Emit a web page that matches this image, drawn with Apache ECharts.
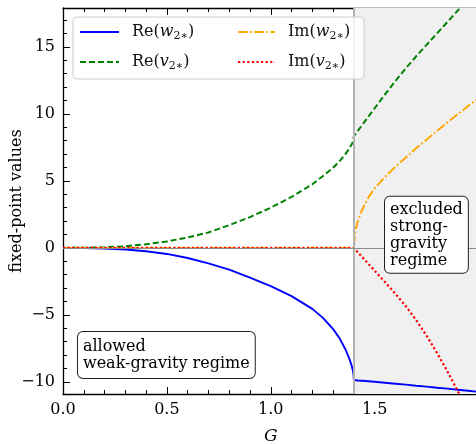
<!DOCTYPE html>
<html>
<head>
<meta charset="utf-8">
<script src="https://cdn.jsdelivr.net/npm/echarts@6/dist/echarts.min.js"></script>
<style>
  html, body { margin: 0; padding: 0; background: #fff; }
  #chart { width: 476px; height: 444px; }
</style>
</head>
<body>
<div id="chart"></div>
<script>
// Coupling G at which the fixed points turn complex
const gCrit = 1.4;

// Sampled coupling values (shared by every curve)
const G = [0, 0.1, 0.2, 0.3, 0.4, 0.5, 0.6, 0.7, 0.8, 0.9, 1.0, 1.1, 1.2, 1.25, 1.3, 1.33, 1.36, 1.38, 1.39, 1.395, 1.398, 1.4,
           1.405, 1.41, 1.42, 1.44, 1.47, 1.5, 1.55, 1.6, 1.65, 1.7, 1.75, 1.8, 1.85, 1.9, 1.95, 2.0];

// Re(w_2*)
const reW = [0, -0.01, -0.05, -0.12, -0.25, -0.45, -0.75, -1.15, -1.62, -2.22, -2.85, -3.6, -4.55, -5.2, -6.05, -6.71, -7.58, -8.34, -8.82, -9.13, -9.4, -9.86,
             -9.87, -9.87, -9.89, -9.91, -9.95, -9.99, -10.06, -10.13, -10.2, -10.28, -10.35, -10.43, -10.5, -10.58, -10.66, -10.74];

// Re(v_2*)
const reV = [0, 0.01, 0.05, 0.12, 0.28, 0.48, 0.78, 1.15, 1.7, 2.3, 3.0, 3.8, 4.75, 5.35, 5.98, 6.45, 7.0, 7.48, 7.73, 7.9, 8.06, 8.33,
             8.44, 8.54, 8.75, 9.17, 9.8, 10.42, 11.45, 12.45, 13.4, 14.3, 15.15, 16.0, 16.85, 17.7, 18.55, 19.4];

// Im(w_2*)
const imW = [0, 0, 0, 0, 0, 0, 0, 0, 0, 0, 0, 0, 0, 0, 0, 0, 0, 0, 0, 0, 0, 0,
             1.0, 1.45, 2.05, 2.85, 3.75, 4.45, 5.3, 6.05, 6.75, 7.43, 8.08, 8.72, 9.35, 9.97, 10.58, 11.18];

// Im(v_2*)
const imV = [0, 0, 0, 0, 0, 0, 0, 0, 0, 0, 0, 0, 0, 0, 0, 0, 0, 0, 0, 0, 0, 0,
             -0.08, -0.17, -0.34, -0.68, -1.19, -1.7, -2.55, -3.42, -4.35, -5.38, -6.55, -7.82, -9.2, -10.68, -12.2, -13.8];

// Axis ranges and tick positions
const xRange = [0, 2];
const yRange = [-10.9, 17.9];
const yMajor = [-10, -5, 0, 5, 10, 15];
const yMinor = [-10, -9, -8, -7, -6, -5, -4, -3, -2, -1, 0, 1, 2, 3, 4, 5, 6, 7, 8, 9, 10, 11, 12, 13, 14, 15, 16, 17];

// Legend entries: [series name, prefix, symbol]
const entries = [
  ['Re(w)', 'Re', 'w'],
  ['Re(v)', 'Re', 'v'],
  ['Im(w)', 'Im', 'w'],
  ['Im(v)', 'Im', 'v']
];

// Region annotations: text and top-left anchor in data coordinates
const allowedText = 'allowed\nweak-gravity regime';
const allowedAt = [0.072, -6.27];
const excludedText = 'excluded\nstrong-\ngravity\nregime';
const excludedAt = [1.55, 3.81];

const FONT = '"DejaVu Serif", serif';
const pairs = ys => G.map((g, i) => [g, ys[i]]);
const minus = v => (v < 0 ? '\u2212' + Math.abs(v) : String(v));

const legendRich = {
  f: { fontFamily: FONT, fontSize: 16, color: '#111', padding: [0, 0, 0, 8], lineHeight: 20 },
  n: { fontFamily: FONT, fontSize: 16, color: '#111', lineHeight: 20 },
  i: { fontFamily: FONT, fontSize: 16, fontStyle: 'italic', color: '#111', lineHeight: 20 },
  s: { fontFamily: FONT, fontSize: 11, color: '#111', verticalAlign: 'bottom', lineHeight: 14 }
};
const legendLabel = name => {
  const e = entries.find(x => x[0] === name);
  return '{f|' + e[1] + '(}{i|' + e[2] + '}{s|2\u2217}{n|)}';
};

function yAxisDef(position, ticks, len, withLabels) {
  return {
    type: 'value', position: position, min: yRange[0], max: yRange[1],
    axisLine: { show: withLabels, onZero: false, lineStyle: { color: '#000', width: 1.3 } },
    axisTick: { show: true, inside: true, length: len, customValues: ticks, lineStyle: { color: '#000', width: 1 } },
    axisLabel: withLabels && position === 'left'
      ? { show: true, customValues: yMajor, formatter: minus, fontFamily: FONT, fontSize: 16, color: '#000', margin: 8 }
      : { show: false },
    splitLine: { show: false },
    name: withLabels && position === 'left' ? 'fixed-point values' : '',
    nameLocation: 'middle', nameGap: 38, nameMoveOverlap: false,
    nameTextStyle: { fontFamily: FONT, fontSize: 16, color: '#000' }
  };
}

function xAxisDef(position, withLabels) {
  return {
    type: 'value', position: position, min: xRange[0], max: xRange[1], interval: 0.5,
    axisLine: { show: true, onZero: false, lineStyle: { color: '#000', width: 1.3 } },
    axisTick: { show: true, inside: true, length: 7, lineStyle: { color: '#000', width: 1 } },
    minorTick: { show: true, splitNumber: 5, length: 4, lineStyle: { color: '#000', width: 1 } },
    axisLabel: withLabels
      ? { show: true, showMaxLabel: false, formatter: v => v.toFixed(1), fontFamily: FONT, fontSize: 16, color: '#000', margin: 8 }
      : { show: false },
    splitLine: { show: false },
    name: withLabels ? 'G' : '',
    nameLocation: 'middle', nameGap: 34,
    nameTextStyle: { fontFamily: FONT, fontSize: 17, fontStyle: 'italic', color: '#000' }
  };
}

const chart = echarts.init(document.getElementById('chart'), null, { renderer: 'canvas' });

const option = {
  animation: false,
  backgroundColor: '#fff',
  grid: { left: 63, top: 8, width: 415.5, height: 386, containLabel: false, outerBoundsMode: 'none' },
  xAxis: [xAxisDef('bottom', true), xAxisDef('top', false)],
  yAxis: [
    yAxisDef('left', yMajor, 7, true),
    yAxisDef('left', yMinor, 4, false),
    yAxisDef('right', yMajor, 7, true),
    yAxisDef('right', yMinor, 4, false)
  ],
  legend: [
    {
      data: [entries[0][0], entries[1][0]], orient: 'vertical', left: 79, top: 24, padding: 0,
      itemWidth: 39, itemHeight: 14, itemGap: 12, z: 20, formatter: legendLabel,
      itemStyle: { opacity: 0 },
      textStyle: { rich: legendRich }
    },
    {
      data: [entries[2][0], entries[3][0]], orient: 'vertical', left: 237, top: 24, padding: 0,
      itemWidth: 37, itemHeight: 14, itemGap: 12, z: 20, formatter: legendLabel,
      itemStyle: { opacity: 0 },
      textStyle: { rich: legendRich }
    }
  ],
  series: [
    {
      // shaded strong-gravity region and reference lines
      name: 'regions', type: 'line', data: [], z: 1, silent: true,
      markArea: {
        silent: true, itemStyle: { color: '#f0f0f0' },
        data: [[{ xAxis: gCrit }, { xAxis: xRange[1] }]]
      },
      markLine: {
        silent: true, symbol: 'none', label: { show: false },
        data: [
          { xAxis: gCrit, lineStyle: { color: '#b3b3b3', width: 2, type: 'solid' } },
          { yAxis: 0, lineStyle: { color: '#8c8c8c', width: 1, type: 'solid' } }
        ]
      }
    },
    {
      name: entries[0][0], type: 'line', data: pairs(reW), symbol: 'none', z: 3,
      lineStyle: { color: '#0000ff', width: 1.9, type: 'solid' }, itemStyle: { color: '#0000ff' }
    },
    {
      name: entries[1][0], type: 'line', data: pairs(reV), symbol: 'none', z: 3,
      lineStyle: { color: '#008000', width: 2, type: [6, 3] }, itemStyle: { color: '#008000' }
    },
    {
      name: entries[2][0], type: 'line', data: pairs(imW), symbol: 'none', z: 3,
      lineStyle: { color: '#ffa500', width: 1.9, type: [9.6, 2.4, 1.9, 2.4] }, itemStyle: { color: '#ffa500' }
    },
    {
      name: entries[3][0], type: 'line', data: pairs(imV), symbol: 'none', z: 3,
      lineStyle: { color: '#ff0000', width: 2.2, type: [2.2, 2.4] }, itemStyle: { color: '#ff0000' }
    }
  ]
};

chart.setOption(option);

// Legend frame and region annotations, placed from data coordinates
const pA = chart.convertToPixel({ gridIndex: 0 }, allowedAt);
const pE = chart.convertToPixel({ gridIndex: 0 }, excludedAt);
const boxStyle = {
  font: '16px ' + FONT, fill: '#000', backgroundColor: '#fff',
  borderColor: '#222', borderWidth: 1, borderRadius: 5, lineHeight: 17,
  align: 'left', verticalAlign: 'top'
};
chart.setOption({
  graphic: [
    {
      type: 'rect', z: 15, shape: { x: 73, y: 17, width: 291, height: 62, r: 4 },
      style: { fill: 'rgba(255,255,255,0.8)', stroke: '#cccccc', lineWidth: 1 }
    },
    {
      type: 'text', z: 30, x: pA[0], y: pA[1],
      style: Object.assign({ text: allowedText, padding: [6, 5, 6, 5] }, boxStyle)
    },
    {
      type: 'text', z: 30, x: pE[0], y: pE[1],
      style: Object.assign({ text: excludedText, padding: [4, 5, 4, 5] }, boxStyle)
    }
  ]
});
</script>
</body>
</html>
